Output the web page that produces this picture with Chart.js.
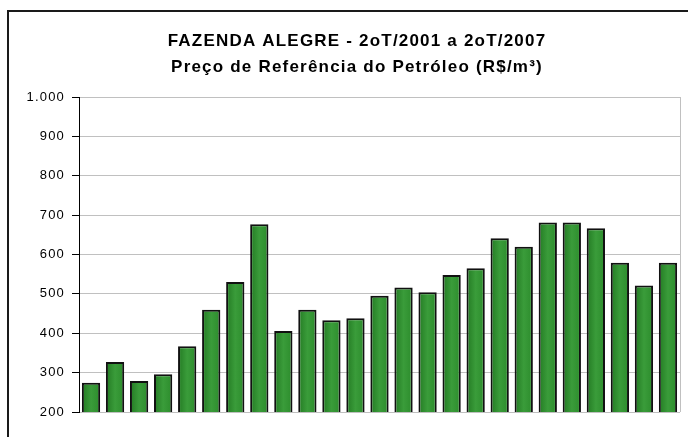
<!DOCTYPE html>
<html>
<head>
<meta charset="utf-8">
<script src="https://cdn.jsdelivr.net/npm/chart.js@4/dist/chart.umd.min.js"></script>
<style>
  html, body { margin: 0; padding: 0; background: #fff; overflow: hidden; }
  #frame {
    position: absolute; left: 7px; top: 10px; right: -10px; bottom: -10px;
    border-left: 2px solid #1a1a1a; border-top: 2px solid #1a1a1a;
  }
  #wrap { position: absolute; left: 0; top: 0; width: 688px; height: 437px; }
</style>
</head>
<body>
<div id="frame"></div>
<div id="wrap"><canvas id="chart"></canvas></div>
<script>
// Quarters 2oT/2001 .. 2oT/2007
const quarters = [
  "2oT/2001", "3oT/2001", "4oT/2001",
  "1oT/2002", "2oT/2002", "3oT/2002", "4oT/2002",
  "1oT/2003", "2oT/2003", "3oT/2003", "4oT/2003",
  "1oT/2004", "2oT/2004", "3oT/2004", "4oT/2004",
  "1oT/2005", "2oT/2005", "3oT/2005", "4oT/2005",
  "1oT/2006", "2oT/2006", "3oT/2006", "4oT/2006",
  "1oT/2007", "2oT/2007",
];
// Preço de referência (R$/m3)
const precos = [
  274, 327, 279, 296, 367, 460, 530, 677, 406, 460, 433, 438, 495,
  516, 504, 548, 565, 641, 620, 681, 681, 667, 579, 521, 579,
];
const titleLines = [
  "FAZENDA ALEGRE - 2oT/2001 a 2oT/2007",
  "Preço de Referência do Petróleo (R$/m³)",
];
const yTickLabels = { 1000: "1.000" };

// Excel-style text is a bit wider than canvas default
const spacingPlugin = {
  id: "spacing",
  beforeDraw(chart) { chart.ctx.letterSpacing = "1.2px"; },
  afterDraw(chart) { chart.ctx.letterSpacing = "0px"; },
};

// the original title sits a little right of the canvas centre
const titleShiftPlugin = {
  id: "titleShift",
  afterLayout(chart) {
    if (chart.titleBlock) chart.titleBlock.left += 34;
  },
};

// horizontal gradient per bar + grey right border of plot area
const barLookPlugin = {
  id: "barLook",
  beforeDatasetsDraw(chart) {
    const ctx = chart.ctx;
    chart.getDatasetMeta(0).data.forEach((bar) => {
      const l = bar.x - bar.width / 2;
      const g = ctx.createLinearGradient(l, 0, l + bar.width, 0);
      g.addColorStop(0, "#237a23");
      g.addColorStop(0.5, "#3a9c3a");
      g.addColorStop(1, "#2c8c2c");
      bar.options = { ...bar.options, backgroundColor: g };
    });
  },
  afterDraw(chart) {
    const a = chart.chartArea;
    const ctx = chart.ctx;
    ctx.save();
    ctx.strokeStyle = "#c0c0c0";
    ctx.lineWidth = 1;
    ctx.beginPath();
    ctx.moveTo(Math.round(a.right) + 0.5, a.top);
    ctx.lineTo(Math.round(a.right) + 0.5, a.bottom);
    ctx.stroke();
    ctx.restore();
  },
};

Chart.defaults.font.family = "'Liberation Sans', Arial, sans-serif";
Chart.defaults.color = "#000";

new Chart(document.getElementById("chart"), {
  type: "bar",
  data: {
    labels: quarters,
    datasets: [{
      data: precos,
      backgroundColor: "#339933",
      borderColor: "#111",
      borderWidth: 2,
      borderSkipped: false,
      barPercentage: 0.76,
      categoryPercentage: 1,
    }],
  },
  options: {
    responsive: true,
    maintainAspectRatio: false,
    animation: false,
    layout: { padding: { left: 0, right: 8, top: 0, bottom: 25 } },
    plugins: {
      legend: { display: false },
      tooltip: { enabled: false },
      title: {
        display: true,
        text: titleLines,
        color: "#000",
        font: { size: 17, weight: "bold", lineHeight: 1.53 },
        padding: { top: 28, bottom: 17 },
      },
    },
    scales: {
      x: { display: false },
      y: {
        min: 200,
        max: 1000,
        afterFit(scale) { scale.width = 79; },
        ticks: {
          stepSize: 100,
          padding: 7,
          font: { size: 13 },
          color: "#000",
          callback: (v) => yTickLabels[v] || String(v),
        },
        grid: { color: "#c0c0c0", tickColor: "#000", tickLength: 7, lineWidth: 1 },
        border: { display: true, color: "#000", width: 1 },
      },
    },
  },
  plugins: [spacingPlugin, titleShiftPlugin, barLookPlugin],
});
</script>
</body>
</html>
